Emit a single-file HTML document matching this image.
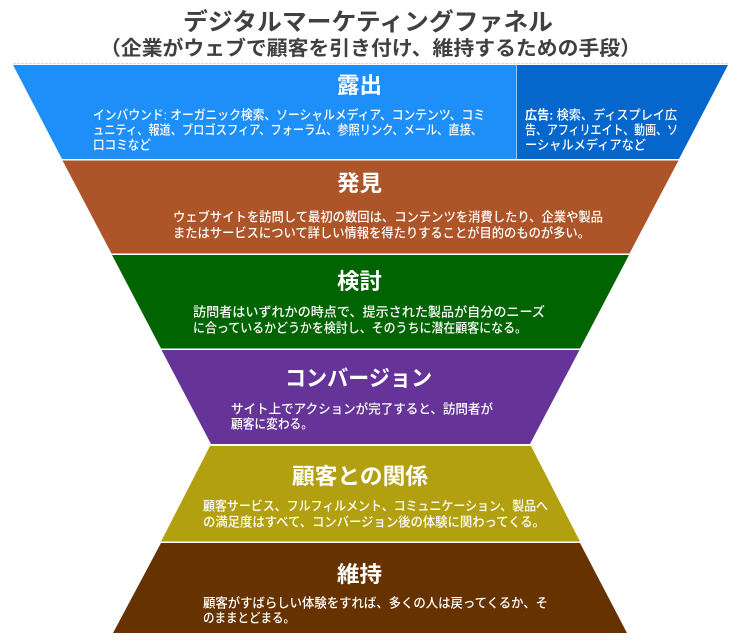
<!DOCTYPE html>
<html>
<head>
<meta charset="utf-8">
<style>
  html,body{margin:0;padding:0;background:#fff;}
  body{width:738px;height:640px;overflow:hidden;}
  svg{display:block;}
  text{font-family:"Liberation Sans","Noto Sans CJK JP",sans-serif;}
  .t{fill:#404040;font-weight:bold;}
  .h{fill:#fff;font-weight:bold;font-size:22px;}
  .b{fill:#fff;font-size:13px;font-weight:500;}
</style>
</head>
<body>
<svg width="738" height="640" viewBox="0 0 738 640" xmlns="http://www.w3.org/2000/svg">
  <!-- title -->
  <text class="t" x="183" y="30" font-size="24" textLength="370" lengthAdjust="spacingAndGlyphs">デジタルマーケティングファネル</text>
  <text class="t" x="100" y="55" font-size="20" textLength="541" lengthAdjust="spacingAndGlyphs">（企業がウェブで顧客を引き付け、維持するための手段）</text>

  <!-- top faint line -->
  <line x1="13" y1="63.5" x2="728" y2="63.5" stroke="#c8dcf0" stroke-width="1" stroke-dasharray="3,1"/>

  <!-- band 1: 露出 -->
  <polygon points="13,65 516,65 516,159 62,159" fill="#1e8ff8"/>
  <polygon points="516,65 728,65 679,159 516,159" fill="#0566cb"/>
  <line x1="516.5" y1="65" x2="516.5" y2="159" stroke="#9cc4ee" stroke-width="1"/>

  <!-- band 2: 発見 -->
  <polygon points="62.5,160.5 678.5,160.5 629.5,253.5 111.5,253.5" fill="#ad5428"/>
  <!-- band 3: 検討 -->
  <polygon points="112,255 629,255 580,348.5 161,348.5" fill="#006400"/>
  <!-- band 4: コンバージョン -->
  <polygon points="161.5,350 579.5,350 530,444 211,444" fill="#663399"/>
  <!-- band 5: 顧客との関係 -->
  <polygon points="210,446 531,446 580,541.5 161,541.5" fill="#b3a010"/>
  <!-- band 6: 維持 -->
  <polygon points="161,543 580,543 627,633 113,633" fill="#663300"/>

  <!-- 露出 text -->
  <text class="h" x="337" y="93" textLength="45" lengthAdjust="spacingAndGlyphs">露出</text>
  <text class="b" x="93" y="119.5" textLength="392" lengthAdjust="spacingAndGlyphs">インバウンド: オーガニック検索、ソーシャルメディア、コンテンツ、コミ</text>
  <text class="b" x="93" y="134.5" textLength="389" lengthAdjust="spacingAndGlyphs">ュニティ、報道、ブロゴスフィア、フォーラム、参照リンク、メール、直接、</text>
  <text class="b" x="93" y="149.5" textLength="58" lengthAdjust="spacingAndGlyphs">口コミなど</text>

  <text class="b" x="525" y="119.5" textLength="152" lengthAdjust="spacingAndGlyphs"><tspan font-weight="bold">広告:</tspan> 検索、ディスプレイ広</text>
  <text class="b" x="525" y="134.5" textLength="153" lengthAdjust="spacingAndGlyphs">告、アフィリエイト、動画、ソ</text>
  <text class="b" x="525" y="149.5" textLength="121" lengthAdjust="spacingAndGlyphs">ーシャルメディアなど</text>

  <!-- 発見 -->
  <text class="h" x="337" y="191" textLength="45" lengthAdjust="spacingAndGlyphs">発見</text>
  <text class="b" x="173" y="221.5" textLength="430" lengthAdjust="spacingAndGlyphs">ウェブサイトを訪問して最初の数回は、コンテンツを消費したり、企業や製品</text>
  <text class="b" x="173" y="237.5" textLength="417" lengthAdjust="spacingAndGlyphs">またはサービスについて詳しい情報を得たりすることが目的のものが多い。</text>

  <!-- 検討 -->
  <text class="h" x="337" y="289" textLength="45" lengthAdjust="spacingAndGlyphs">検討</text>
  <text class="b" x="193" y="316.5" textLength="352" lengthAdjust="spacingAndGlyphs">訪問者はいずれかの時点で、提示された製品が自分のニーズ</text>
  <text class="b" x="193" y="332.5" textLength="334" lengthAdjust="spacingAndGlyphs">に合っているかどうかを検討し、そのうちに潜在顧客になる。</text>

  <!-- コンバージョン -->
  <text class="h" x="285" y="386" textLength="147" lengthAdjust="spacingAndGlyphs">コンバージョン</text>
  <text class="b" x="231" y="413.5" textLength="262" lengthAdjust="spacingAndGlyphs">サイト上でアクションが完了すると、訪問者が</text>
  <text class="b" x="231" y="428.5" textLength="82" lengthAdjust="spacingAndGlyphs">顧客に変わる。</text>

  <!-- 顧客との関係 -->
  <text class="h" x="292" y="484" textLength="136" lengthAdjust="spacingAndGlyphs">顧客との関係</text>
  <text class="b" x="203" y="510.5" textLength="345" lengthAdjust="spacingAndGlyphs">顧客サービス、フルフィルメント、コミュニケーション、製品へ</text>
  <text class="b" x="203" y="526.5" textLength="342" lengthAdjust="spacingAndGlyphs">の満足度はすべて、コンバージョン後の体験に関わってくる。</text>

  <!-- 維持 -->
  <text class="h" x="337" y="582" textLength="45" lengthAdjust="spacingAndGlyphs">維持</text>
  <text class="b" x="203" y="607.5" textLength="345" lengthAdjust="spacingAndGlyphs">顧客がすばらしい体験をすれば、多くの人は戻ってくるか、そ</text>
  <text class="b" x="203" y="622.5" textLength="92" lengthAdjust="spacingAndGlyphs">のままとどまる。</text>
</svg>
</body>
</html>
